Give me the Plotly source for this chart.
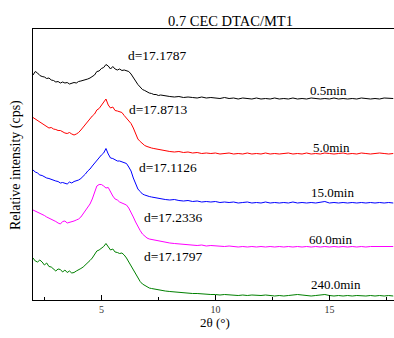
import plotly.graph_objects as go

# 2-theta sampling grid (degrees): 0.1 deg step over the peak region, 0.2 deg beyond
two_theta = [round(2.0 + 0.1 * i, 1) for i in range(57)] + [round(7.8 + 0.2 * i, 1) for i in range(51)]

# Offset relative intensities (arbitrary units, stacked)
i_05min = [225, 228.5, 227, 224.5, 223.5, 223, 221.5, 222, 220, 219.5,
           218, 218.5, 217, 218, 217, 217.5, 216, 216.5, 217.5, 217,
           218.5, 219, 219.5, 220.5, 221, 222, 223.5, 225, 228.5, 229,
           231.5, 232.5, 235.5, 234, 231, 233.5, 231, 230, 231, 229.5,
           230, 229, 228.5, 226, 223, 219, 215.5, 213, 210.5, 209.5,
           208, 207, 206.5, 205.5, 205.5, 204.5, 205,
           204, 203.5, 203, 203.5, 202.5, 203, 202.5, 202, 203, 202, 202.5,
           202, 201.5, 202.5, 201.5, 202, 201, 202, 201.5, 201, 202,
           201, 201.5, 201, 202, 201, 201.5, 201, 202, 201, 201.5,
           201, 202, 201.5, 201, 201.5, 201, 202, 201, 201.5, 201,
           201.5, 201, 202, 201.5, 201, 201.5, 201, 202, 201.5, 201.5]

i_5min = [182.5, 181, 179.5, 178, 176, 175, 173.5, 172, 172.5, 171,
          170.5, 169.5, 169.5, 168, 167, 166.5, 167.5, 166, 165, 166,
          167.5, 170, 173, 176, 179, 181.5, 184, 186, 190, 191.5,
          194.5, 197, 201, 195, 192, 193, 189.5, 189, 188, 187.5,
          184.5, 182, 180, 176.5, 172, 166, 161, 158.5, 156, 154.5,
          153.5, 152.5, 152, 151.5, 151, 150.5, 150,
          149.5, 148.5, 148, 148.5, 147.5, 148, 147, 147.5, 146.5, 147, 146.5,
          147, 146, 146.5, 147, 146, 146.5, 146, 147, 146, 146.5,
          146, 147, 146, 146.5, 146, 146.5, 147, 146, 146.5, 146,
          147, 146, 146.5, 146, 147, 146.5, 146, 146.5, 147, 146,
          146.5, 146, 147, 146.5, 146, 146.5, 147, 146.5, 146, 146.5]

i_15min = [130, 128, 127, 125, 124.5, 123, 122, 121.5, 120.5, 120,
           119, 118.5, 117, 117.5, 116.5, 116, 118, 117, 118.5, 119,
           120, 121.5, 123.5, 126, 129, 131, 134, 137, 139, 142,
           145, 147, 151.5, 146, 142, 141.5, 140.5, 139, 139, 138,
           137, 136.5, 133, 129, 122, 116, 111, 108.5, 106, 105,
           104, 103.5, 103, 102.5, 102, 101.5, 101.5,
           100.5, 100, 100.5, 99.5, 99, 99.5, 98.5, 99, 98, 98.5, 98,
           98.5, 97.5, 98, 97.5, 98, 97, 97.5, 98, 97, 97.5,
           97, 98, 97, 97.5, 97, 97.5, 97, 98, 97, 97.5,
           97, 97.5, 97, 97.5, 98.5, 97, 97.5, 97, 97.5, 97,
           97.5, 97, 97.5, 97, 97.5, 97, 97.5, 97, 97.5, 97]

i_60min = [90, 89, 88, 86.5, 85.5, 84.5, 83, 82, 81, 80,
           78.5, 77, 76, 78.5, 79, 77, 77.5, 78.5, 79, 80,
           81, 83, 86, 89, 92, 96, 101, 108, 114, 115.5,
           115.5, 114, 112, 112.5, 107.5, 104, 101, 100, 98, 97,
           96, 95, 92, 88, 83, 78, 73, 69.5, 66, 64,
           62, 61, 60.5, 60, 59.5, 59, 58.5,
           57.5, 57, 56.5, 56, 55.5, 55, 55, 54.5, 55, 54, 54.5,
           54, 54, 53.5, 54, 53.5, 53, 53.5, 53, 53.5, 53,
           53.5, 53, 53.5, 53, 53.5, 53, 53.5, 53, 53.5, 53,
           53.5, 53, 53.5, 53, 53.5, 53, 53.5, 53, 53.5, 53,
           53.5, 53, 53.5, 53, 53.5, 53.5, 53, 53.5, 53.5, 53.5]

i_240min = [42, 39, 38, 40, 38, 35, 37, 33.5, 33, 31,
            29, 31, 30.5, 28, 30, 27.5, 29, 27, 27.5, 29,
            30, 31.5, 33, 35, 37, 39.5, 42, 45, 49, 50,
            52, 53.5, 56.5, 53, 50, 51, 48, 47.5, 46.5, 47,
            45, 42, 38, 34, 30, 25, 21, 18.5, 16, 14.5,
            13, 12, 11.5, 11, 10.5, 10, 9.5,
            9, 8.5, 8, 7.5, 7, 7, 6.5, 6.5, 6, 6, 5.5,
            5.5, 5, 5.5, 5, 5, 4.5, 5, 4.5, 5, 4.5,
            4.5, 5, 4.5, 4, 4.5, 4, 4.5, 5, 5.5, 5,
            4.5, 4, 4.5, 5, 5.5, 4.5, 4, 4.5, 4, 4.5,
            4, 4.5, 4, 4, 4.5, 4, 4.5, 4, 4.5, 4]

series_names = ["0.5min", "5.0min", "15.0min", "60.0min", "240.0min"]
series_values = [i_05min, i_5min, i_15min, i_60min, i_240min]
series_colors = ["#000000", "#ff0000", "#0000ff", "#ff00ff", "#008000"]

d_labels = ["d=17.1787", "d=17.8713", "d=17.1126", "d=17.2336", "d=17.1797"]
d_label_pos = [(7.44, 245), (7.48, 190.5), (7.92, 132.7), (8.14, 82.7), (8.14, 43.3)]
time_label_pos = [(14.94, 209.3), (15.07, 152.7), (15.14, 107.3), (15.05, 60.7), (15.29, 16)]

x_ticks = [5, 10, 15]

FONT = "Liberation Serif, Times New Roman, serif"

fig = go.Figure()
for name, vals, col in zip(series_names, series_values, series_colors):
    fig.add_trace(go.Scatter(x=two_theta, y=vals, mode="lines", name=name,
                             line=dict(color=col, width=1), showlegend=False))

ann = []
for txt, (x, y) in zip(d_labels, d_label_pos):
    ann.append(dict(x=x, y=y, text=txt, showarrow=False, xref="x", yref="y",
                    font=dict(family=FONT, size=13.5, color="#000")))
for txt, (x, y) in zip(series_names, time_label_pos):
    ann.append(dict(x=x, y=y, text=txt, showarrow=False, xref="x", yref="y",
                    font=dict(family=FONT, size=13, color="#000")))

# title and axis titles
ann.append(dict(x=0.546, y=1.0295, xref="paper", yref="paper", text="0.7 CEC DTAC/MT1",
                showarrow=False, yanchor="middle", font=dict(family=FONT, size=14.5, color="#000")))
ann.append(dict(x=0.504, y=-0.083, xref="paper", yref="paper", text="2θ (°)",
                showarrow=False, yanchor="middle", font=dict(family=FONT, size=13, color="#000")))
ann.append(dict(x=-0.047, y=0.498, xref="paper", yref="paper", text="Relative intensity (cps)",
                showarrow=False, textangle=-90, xanchor="center", yanchor="middle",
                font=dict(family=FONT, size=14, color="#000")))

fig.update_layout(
    width=394, height=338, autosize=False,
    margin=dict(l=33, r=0, t=29, b=38),
    paper_bgcolor="white", plot_bgcolor="white",
    annotations=ann,
    xaxis=dict(range=[2, 17.833], tickvals=x_ticks, ticktext=[str(v) for v in x_ticks],
               ticks="inside", ticklen=5, tickcolor="#000", showline=True, linecolor="#000",
               linewidth=1, mirror=True, showgrid=False, zeroline=False,
               tickfont=dict(family=FONT, size=10, color="#333"),
               minor=dict(tickvals=[2.5, 7.5, 12.5, 17.5], ticks="inside", ticklen=3, tickcolor="#000")),
    yaxis=dict(range=[0, 271], showticklabels=False, ticks="", showline=True, linecolor="#000",
               linewidth=1, showgrid=False, zeroline=False),
)

fig.write_html("out.html")
